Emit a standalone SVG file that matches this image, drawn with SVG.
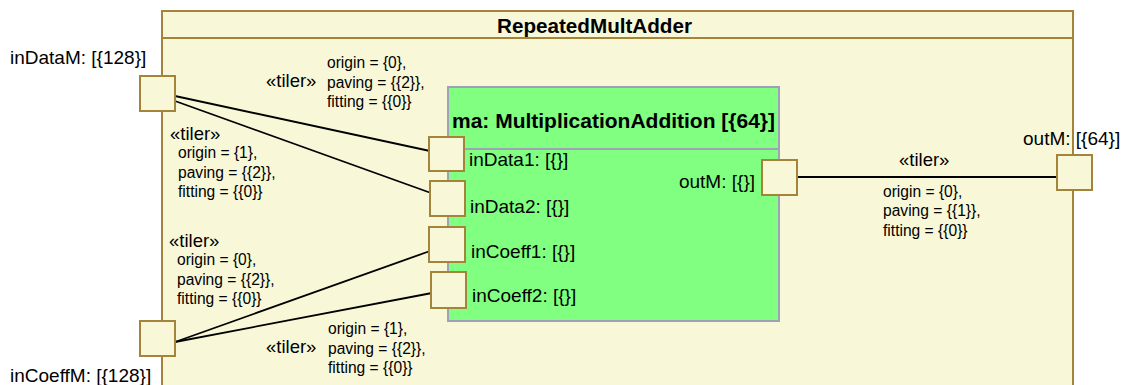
<svg xmlns="http://www.w3.org/2000/svg" width="1123" height="385" viewBox="0 0 1123 385">
<style>
text{font-family:"Liberation Sans",Arial,sans-serif;fill:#000}
.frame{fill:#F8F8D8;stroke:#A3843A;stroke-width:2}
.port{fill:#F8F8D8;stroke:#A3843A;stroke-width:2}
.part{fill:#80FF80;stroke:#A0A0B8;stroke-width:2}
.conn{stroke:#000;stroke-width:1.8;fill:none}
.lbl{font-size:19px}
.bold{font-size:20px;font-weight:bold}
.st{font-size:18.5px}
.sm{font-size:15.6px}
</style>
<rect width="1123" height="385" fill="#FFFFFF"/>
<g id="RepeatedMultAdder">
<rect class="frame" x="162" y="11" width="911" height="390"/>
<line x1="162" y1="38" x2="1073" y2="38" stroke="#A3843A" stroke-width="2"/>
<text class="bold" x="497" y="33" textLength="195" lengthAdjust="spacingAndGlyphs">RepeatedMultAdder</text>
</g>
<g id="ma">
<rect class="part" x="448" y="87" width="331" height="234"/>
<line x1="448" y1="149" x2="779" y2="149" stroke="#A0A0B8" stroke-width="2"/>
<text class="bold" x="613.5" y="128" text-anchor="middle" textLength="323" lengthAdjust="spacingAndGlyphs">ma: MultiplicationAddition [{64}]</text>
</g>
<g id="connectors">
<line class="conn" x1="175" y1="96" x2="430" y2="151"/>
<line class="conn" x1="175" y1="101" x2="431" y2="193"/>
<line class="conn" x1="175" y1="342" x2="430" y2="251"/>
<line class="conn" x1="175" y1="342" x2="432" y2="293"/>
<line class="conn" x1="797" y1="177" x2="1058" y2="177"/>
</g>
<g id="tiler1">
<text class="st" x="266" y="87">«tiler»</text>
<text class="sm" x="327" y="68">origin = {0},</text>
<text class="sm" x="327" y="87.5">paving = {{2}},</text>
<text class="sm" x="327" y="107">fitting = {{0}}</text>
</g>
<g id="tiler2">
<text class="st" x="170" y="139.5">«tiler»</text>
<text class="sm" x="178" y="158">origin = {1},</text>
<text class="sm" x="178" y="177.5">paving = {{2}},</text>
<text class="sm" x="178" y="197">fitting = {{0}}</text>
</g>
<g id="tiler3">
<text class="st" x="169" y="246.5">«tiler»</text>
<text class="sm" x="177" y="265">origin = {0},</text>
<text class="sm" x="177" y="284.5">paving = {{2}},</text>
<text class="sm" x="177" y="304">fitting = {{0}}</text>
</g>
<g id="tiler4">
<text class="st" x="266" y="352.5">«tiler»</text>
<text class="sm" x="328" y="334">origin = {1},</text>
<text class="sm" x="328" y="353.5">paving = {{2}},</text>
<text class="sm" x="328" y="373">fitting = {{0}}</text>
</g>
<g id="tiler5">
<text class="st" x="899" y="166">«tiler»</text>
<text class="sm" x="883" y="196.5">origin = {0},</text>
<text class="sm" x="883" y="216">paving = {{1}},</text>
<text class="sm" x="883" y="235.5">fitting = {{0}}</text>
</g>
<g id="inDataM">
<rect class="port" x="140" y="76" width="35" height="35"/>
<text class="lbl" x="10" y="64">inDataM: [{128}]</text>
</g>
<g id="inCoeffM">
<rect class="port" x="140" y="321" width="35" height="35"/>
<text class="lbl" x="10" y="382">inCoeffM: [{128}]</text>
</g>
<g id="outM_outer">
<rect class="port" x="1057" y="155" width="35" height="35"/>
<text class="lbl" x="1023" y="145">outM: [{64}]</text>
</g>
<g id="inData1">
<rect class="port" x="429" y="137" width="35" height="34"/>
<text class="lbl" x="469" y="166">inData1: [{}]</text>
</g>
<g id="inData2">
<rect class="port" x="430" y="181" width="35" height="35"/>
<text class="lbl" x="470" y="213">inData2: [{}]</text>
</g>
<g id="inCoeff1">
<rect class="port" x="429" y="227" width="36" height="35"/>
<text class="lbl" x="471" y="258">inCoeff1: [{}]</text>
</g>
<g id="inCoeff2">
<rect class="port" x="431" y="272" width="35" height="36"/>
<text class="lbl" x="472" y="302">inCoeff2: [{}]</text>
</g>
<g id="outM_inner">
<rect class="port" x="762" y="160" width="35" height="35"/>
<text class="lbl" x="755" y="188" text-anchor="end">outM: [{}]</text>
</g>
</svg>
